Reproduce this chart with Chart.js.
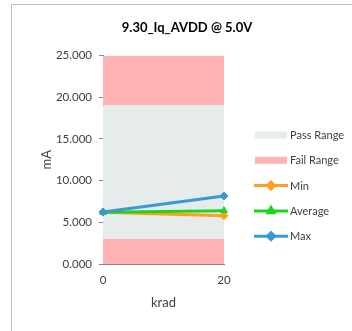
<!DOCTYPE html>
<html>
<head>
<meta charset="utf-8">
<script src="https://cdn.jsdelivr.net/npm/chart.js@4/dist/chart.umd.min.js"></script>
<style>
  html, body { margin: 0; padding: 0; background: #fff; }
  #wrap { width: 352px; height: 331px; position: relative; }
</style>
</head>
<body>
<div id="wrap"><canvas id="c" width="352" height="331"></canvas></div>
<script>
// Irradiation steps (krad) and supply current readings (mA)
const doses = ['0', '20'];
const minValues = [6.2, 5.8];
const avgValues = [6.2, 6.4];
const maxValues = [6.25, 8.15];

// Pass / fail limits
const failLow = [3, 3];
const passHigh = [19, 19];
const failHigh = [25, 25];

const FONT = 'Lato, "Liberation Sans", sans-serif';
const PASS_COLOR = '#E6EBEB';
const FAIL_COLOR = '#FFB3B3';
const MIN_COLOR = '#FF9F1C';
const AVG_COLOR = '#1ED41E';
const MAX_COLOR = '#3A99D3';

const legendItems = [
  { label: 'Pass Range', type: 'box', color: PASS_COLOR },
  { label: 'Fail Range', type: 'box', color: FAIL_COLOR },
  { label: 'Min', type: 'line', color: MIN_COLOR, pointStyle: 'rectRot' },
  { label: 'Average', type: 'line', color: AVG_COLOR, pointStyle: 'triangle' },
  { label: 'Max', type: 'line', color: MAX_COLOR, pointStyle: 'rectRot' }
];

// Outer frame and legend drawn on the canvas
const framePlugin = {
  id: 'frame',
  beforeDraw(chart) {
    const ctx = chart.ctx;
    ctx.save();
    ctx.strokeStyle = '#BFBFBF';
    ctx.lineWidth = 1;
    ctx.beginPath();
    ctx.moveTo(11.5, chart.height);
    ctx.lineTo(11.5, 4.5);
    ctx.lineTo(chart.width, 4.5);
    ctx.stroke();
    ctx.restore();
  },
  afterDraw(chart) {
    const ctx = chart.ctx;
    ctx.save();
    ctx.font = '11px ' + FONT;
    ctx.textBaseline = 'middle';
    ctx.textAlign = 'left';
    const x0 = 255, x1 = 287, tx = 290;
    let y = 135;
    legendItems.forEach(item => {
      if (item.type === 'box') {
        ctx.fillStyle = item.color;
        ctx.fillRect(x0, y - 3.5, x1 - x0, 7);
      } else {
        ctx.strokeStyle = item.color;
        ctx.lineWidth = 3;
        ctx.beginPath();
        ctx.moveTo(x0 - 1, y);
        ctx.lineTo(x1 + 1, y);
        ctx.stroke();
        ctx.fillStyle = item.color;
        Chart.helpers.drawPoint(ctx, {
          pointStyle: item.pointStyle, radius: 3.5, rotation: 0, borderWidth: 1
        }, (x0 + x1) / 2, y);
        ctx.fill();
      }
      ctx.fillStyle = '#404040';
      ctx.fillText(item.label, tx, y + 0.5);
      y += 25.3;
    });
    ctx.restore();
  }
};

const band = (data, color, fill) => ({
  data, fill, backgroundColor: color, borderWidth: 0,
  pointRadius: 0, pointHoverRadius: 0, order: 10
});
const series = (label, data, color, pointStyle, order) => ({
  label, data, borderColor: color, backgroundColor: color,
  borderWidth: 3, pointStyle, pointRadius: 4, pointBorderWidth: 1,
  pointBackgroundColor: color, pointBorderColor: color, fill: false, order
});

new Chart(document.getElementById('c'), {
  type: 'line',
  data: {
    labels: doses,
    datasets: [
      band(failLow, FAIL_COLOR, 'origin'),
      band(passHigh, PASS_COLOR, '-1'),
      band(failHigh, FAIL_COLOR, '-1'),
      series('Min', minValues, MIN_COLOR, 'rectRot', 3),
      series('Average', avgValues, AVG_COLOR, 'triangle', 2),
      series('Max', maxValues, MAX_COLOR, 'rectRot', 1)
    ]
  },
  options: {
    responsive: false,
    animation: false,
    events: [],
    layout: { padding: { left: 22, right: 0, top: 0, bottom: 0 } },
    plugins: {
      legend: { display: false },
      tooltip: { enabled: false },
      title: {
        display: true,
        text: '9.30_Iq_AVDD @ 5.0V',
        color: '#000',
        font: { family: FONT, size: 13, weight: 'bold' },
        padding: { top: 20, bottom: 20 }
      }
    },
    scales: {
      x: {
        type: 'category',
        offset: false,
        grid: { display: false, drawTicks: true, tickLength: 4, tickColor: '#868686', drawOnChartArea: false },
        border: { color: '#868686', width: 1 },
        ticks: { color: '#404040', font: { family: FONT, size: 11.5 }, padding: 5, maxRotation: 0 },
        title: { display: true, text: 'krad', color: '#404040', font: { family: FONT, size: 13 }, padding: { top: 0, bottom: 20 } },
        afterFit(scale) { scale.height = 67; }
      },
      y: {
        min: 0, max: 25,
        grid: { display: true, drawOnChartArea: false, drawTicks: true, tickLength: 4, tickColor: '#868686' },
        border: { color: '#868686', width: 1 },
        ticks: {
          stepSize: 5, color: '#404040', font: { family: FONT, size: 11.5 }, padding: 7,
          callback: v => v.toFixed(3)
        },
        title: { display: true, text: 'mA', color: '#404040', font: { family: FONT, size: 13 }, padding: { top: 17, bottom: 0 } },
        afterFit(scale) { scale.width = 81; }
      },
      side: {
        position: 'right',
        display: true,
        grid: { display: false },
        border: { display: false },
        ticks: { display: false },
        afterFit(scale) { scale.width = 128; }
      }
    }
  },
  plugins: [framePlugin]
});
</script>
</body>
</html>
